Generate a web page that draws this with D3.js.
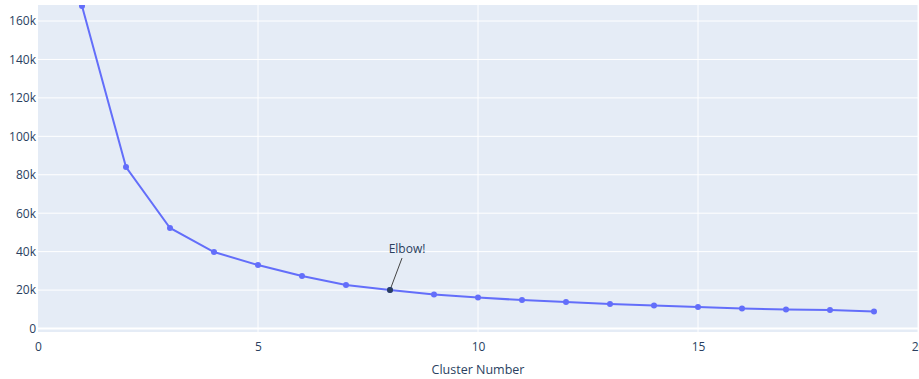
<!DOCTYPE html>
<html><head><meta charset="utf-8">
<script src="https://cdn.jsdelivr.net/npm/d3@7"></script>
<style>body{margin:0;background:#fff;}svg{display:block;font-family:"Open Sans",sans-serif;}</style>
</head><body><svg id="c" width="919" height="379"></svg>
<script>
const clusters = [1,2,3,4,5,6,7,8,9,10,11,12,13,14,15,16,17,18,19];
const inertia = [167800,84000,52300,39800,33000,27300,22600,20000,17700,16100,14800,13800,12700,12000,11200,10400,9900,9600,8800];
const xTicks = [0,5,10,15,20];
const yTicks = [0,20000,40000,60000,80000,100000,120000,140000,160000];
const yTickLabels = ["0","20k","40k","60k","80k","100k","120k","140k","160k"];
const xTitle = "Cluster Number";
const elbowX = 8, elbowLabel = "Elbow!";

const svg = d3.select("#c");
const L = 38, R = 918, T = 5, B = 332;
const x = d3.scaleLinear().domain([0,20]).range([L, 918]);
const y = d3.scaleLinear().domain([0,160000]).range([328.5, 21]);
const txt = "#2a3f5f";

svg.append("rect").attr("x",L).attr("y",T).attr("width",R-L).attr("height",B-T).attr("fill","#e5ecf6");
svg.append("clipPath").attr("id","pc").append("rect").attr("x",L).attr("y",T).attr("width",R-L).attr("height",B-T);

const g = svg.append("g").attr("clip-path","url(#pc)");
g.selectAll(".xg").data(xTicks.filter(d=>d>0)).join("line")
  .attr("x1",d=>x(d)).attr("x2",d=>x(d)).attr("y1",T).attr("y2",B).attr("stroke","#fff").attr("stroke-width",1);
g.selectAll(".yg").data(yTicks.filter(d=>d>0)).join("line")
  .attr("x1",L).attr("x2",R).attr("y1",d=>y(d)).attr("y2",d=>y(d)).attr("stroke","#fff").attr("stroke-width",1);
g.append("line").attr("x1",L).attr("x2",R).attr("y1",y(0)).attr("y2",y(0)).attr("stroke","#fff").attr("stroke-width",2);

const pts = clusters.map((c,i)=>[c,inertia[i]]);
g.append("path").datum(pts).attr("fill","none").attr("stroke","#636efa").attr("stroke-width",2)
  .attr("d", d3.line().x(d=>x(d[0])).y(d=>y(d[1])));
g.selectAll(".pt").data(pts).join("circle").attr("cx",d=>x(d[0])).attr("cy",d=>y(d[1])).attr("r",3)
  .attr("fill","#636efa");

const xa = svg.append("g").attr("transform",`translate(0,${B})`)
  .call(d3.axisBottom(x).tickValues(xTicks).tickSize(0).tickPadding(10).tickFormat(d3.format("d")));
xa.select(".domain").remove();
xa.selectAll("text").attr("fill",txt).style("font-size","12px").style("font-family","'Open Sans',sans-serif");

const ya = svg.append("g").attr("transform",`translate(${L},0)`)
  .call(d3.axisLeft(y).tickValues(yTicks).tickSize(0).tickPadding(2).tickFormat((d,i)=>yTickLabels[i]));
ya.select(".domain").remove();
ya.selectAll("text").attr("fill",txt).style("font-size","12px").style("font-family","'Open Sans',sans-serif");

svg.append("text").attr("x",(L+R)/2).attr("y",374).attr("text-anchor","middle").attr("fill",txt)
  .style("font-size","12.5px").text(xTitle);

const eIdx = clusters.indexOf(elbowX);
const ex = x(elbowX), ey = y(inertia[eIdx]);
svg.append("line").attr("x1",ex).attr("y1",ey).attr("x2",ex+12).attr("y2",ey-32)
  .attr("stroke","#444").attr("stroke-width",1);
svg.append("circle").attr("cx",ex).attr("cy",ey).attr("r",3).attr("fill","#2a3f5f");
svg.append("text").attr("x",ex+17).attr("y",ey-37).attr("text-anchor","middle").attr("fill",txt)
  .style("font-size","12px").text(elbowLabel);
</script></body></html>
